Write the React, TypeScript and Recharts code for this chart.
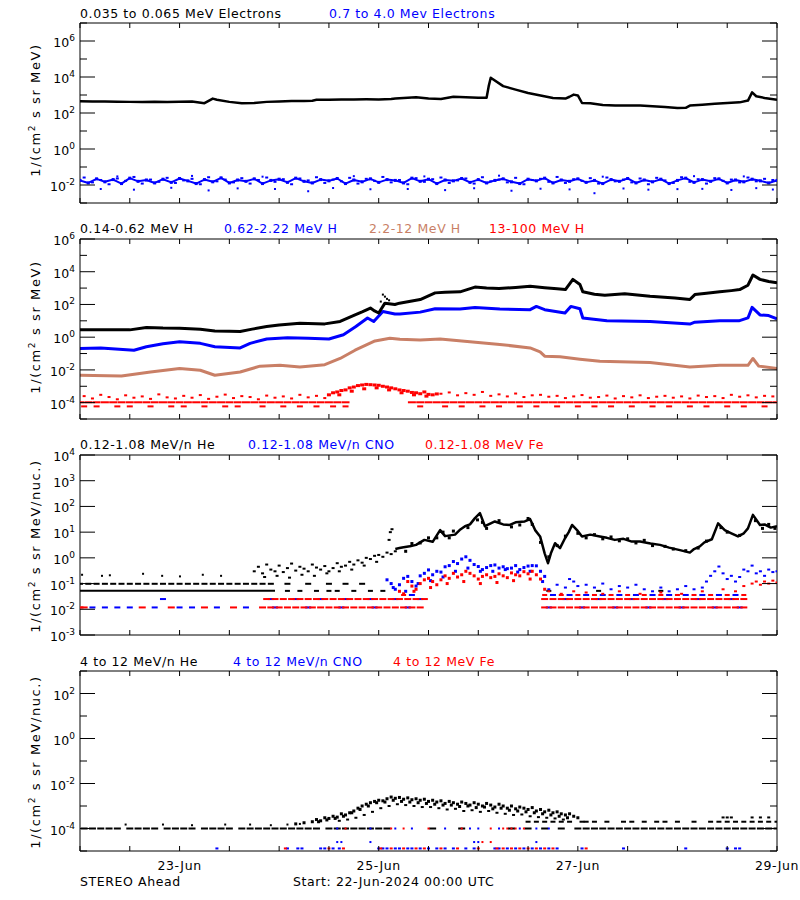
import React from "react";
import { ComposedChart, Line, Scatter, XAxis, YAxis } from "recharts";

// hours since 22-Jun-2024 00:00 UTC
const xTicks = [0, 12, 24, 36, 48, 60, 72, 84, 96, 108, 120, 132, 144, 156, 168];
const dateLabels: Record<number, string> = { 24: "23-Jun", 72: "25-Jun", 120: "27-Jun", 168: "29-Jun" };

const grid2h = [
  0, 2, 4, 6, 8, 10, 12, 14, 16, 18, 20, 22, 24, 26, 28, 30, 32, 34, 36, 38, 40, 42, 44, 46, 48, 50, 52, 54, 56, 58,
  60, 62, 64, 66, 68, 70, 72, 74, 76, 78, 80, 82, 84, 86, 88, 90, 92, 94, 96, 98, 100, 102, 104, 106, 108, 110, 112,
  114, 116, 118, 120, 122, 124, 126, 128, 130, 132, 134, 136, 138, 140, 142, 144, 146, 148, 150, 152, 154, 156, 158,
  160, 162, 164, 166, 168,
];
const gridOdd = [
  1, 3, 5, 7, 9, 11, 13, 15, 17, 19, 21, 23, 25, 27, 29, 31, 33, 35, 37, 39, 41, 43, 45, 47, 49, 51, 53, 55, 57, 59,
  61, 63, 65, 67, 69, 71, 73, 75, 77, 79, 81, 83, 85, 87, 89, 91, 93, 95, 97, 99, 101, 103, 105, 107, 109, 111, 113,
  115, 117, 119, 121, 123, 125, 127, 129, 131, 133, 135, 137, 139, 141, 143, 145, 147, 149, 151, 153, 155, 157, 159,
  161, 163, 165, 167,
];

// ---- panel 1: electrons
const elecLoT = [0, 3, 6, 9, 12, 15, 18, 21, 24, 27, 30, 32, 33, 36, 39, 42, 45, 48, 51, 54, 56, 57, 60, 63, 66, 69, 72, 75, 76, 78, 81, 84, 87, 90, 93, 96, 98, 98.5, 99, 102, 105, 108, 111, 114, 117, 118, 119, 120, 121, 123, 126, 129, 132, 135, 138, 141, 144, 146, 147, 150, 153, 156, 159, 161, 162, 163, 165, 168];
const elecLoV = [450, 430, 440, 420, 415, 410, 420, 410, 420, 430, 350, 630, 550, 415, 350, 360, 415, 430, 460, 470, 480, 540, 550, 570, 570, 580, 570, 600, 640, 690, 740, 630, 600, 800, 740, 700, 700, 3000, 9000, 3100, 2000, 1300, 950, 690, 630, 800, 1050, 950, 360, 350, 280, 260, 265, 260, 235, 215, 190, 195, 260, 290, 330, 360, 390, 490, 1400, 850, 690, 550];
const elecHiV = [
  0.018, 0.013, 0.022, 0.015, 0.02, 0.012, 0.024, 0.016, 0.019, 0.013,
  0.021, 0.014, 0.023, 0.017, 0.012, 0.02, 0.015, 0.025, 0.013, 0.019,
  0.016, 0.022, 0.012, 0.018, 0.021, 0.014, 0.024, 0.016, 0.013, 0.02,
  0.017, 0.023, 0.012, 0.019, 0.015, 0.022, 0.014, 0.02, 0.018, 0.013,
  0.024, 0.016, 0.021, 0.012, 0.019, 0.017, 0.023, 0.014, 0.02, 0.013,
  0.018, 0.022, 0.015, 0.012, 0.021, 0.017, 0.024, 0.013, 0.019, 0.016,
  0.022, 0.014, 0.018, 0.012, 0.02, 0.016, 0.023, 0.013, 0.019, 0.015,
  0.021, 0.012, 0.018, 0.024, 0.014, 0.02, 0.016, 0.022, 0.013, 0.019,
  0.015, 0.021, 0.017, 0.013, 0.018,
];
const elecHiOddV = [
  0.026, 0.014, 0.019, 0.011, 0.023, 0.017, 0.028, 0.012, 0.02, 0.015,
  0.025, 0.013, 0.018, 0.022, 0.011, 0.027, 0.016, 0.02, 0.014, 0.024,
  0.012, 0.019, 0.026, 0.015, 0.021, 0.011, 0.023, 0.018, 0.027, 0.013,
  0.02, 0.016, 0.025, 0.012, 0.022, 0.017, 0.028, 0.014, 0.019, 0.011,
  0.024, 0.015, 0.021, 0.026, 0.013, 0.018, 0.023, 0.012, 0.027, 0.016,
  0.02, 0.014, 0.025, 0.011, 0.019, 0.022, 0.015, 0.028, 0.013, 0.021,
  0.017, 0.024, 0.012, 0.026, 0.016, 0.02, 0.014, 0.023, 0.011, 0.025,
  0.018, 0.013, 0.027, 0.015, 0.021, 0.012, 0.024, 0.017, 0.02, 0.014,
  0.026, 0.016, 0.022, 0.019,
];
const elecHiOutT = [5, 9, 13, 22, 27, 31, 38, 44, 47, 55, 61, 66, 70, 79, 83, 88, 95, 101, 104, 111, 118, 124, 126, 131, 137, 144, 148, 150, 157, 160, 163, 167];
const elecHiOutV = [0.006, 0.03, 0.0055, 0.007, 0.032, 0.005, 0.0065, 0.029, 0.006, 0.0045, 0.0068, 0.031, 0.0058, 0.006, 0.03, 0.0052, 0.0066, 0.033, 0.0048, 0.0062, 0.0057, 0.0035, 0.029, 0.0064, 0.0055, 0.0059, 0.031, 0.0061, 0.0053, 0.03, 0.0067, 0.0056];

// ---- panel 2: protons
const hLowT = [0, 5, 12, 16, 20, 24, 29, 32.5, 36, 38.6, 41.5, 45, 48, 53, 59, 62.7, 66.3, 68, 70, 71, 72, 73.5, 75.9, 77, 82, 85.6, 88, 91.6, 95.2, 98, 101, 105, 108.5, 112, 115, 117, 118.8, 120.5, 121.2, 124, 126.5, 131.3, 137.4, 143.4, 147, 148.2, 151, 154.2, 157, 159, 161, 162.2, 163.9, 166, 168];
const hLowV = [2.8, 2.8, 2.8, 3.9, 3.6, 3.5, 3.1, 2.4, 2.3, 2.2, 3.1, 4.5, 5.6, 7.2, 6.5, 9.1, 23, 35, 60, 40, 30, 120, 100, 120, 200, 510, 560, 590, 1150, 1000, 950, 1100, 1300, 1050, 900, 810, 3400, 1650, 590, 420, 360, 450, 320, 250, 200, 400, 480, 590, 700, 810, 1500, 6300, 3400, 2500, 2100];
const hSpikeT = [72.5, 73, 73.5, 74, 74.5];
const hSpikeV = [150, 400, 300, 220, 180];
const hMidT = [0, 5, 13, 16, 20, 24, 29, 32.5, 38.6, 41, 45, 50, 55, 60, 63.5, 66.5, 69.3, 70.8, 73, 75.9, 77.1, 82, 85.6, 91.6, 95.2, 101.2, 108.5, 110, 112, 116.9, 118.3, 120.5, 121.2, 127, 137.4, 147, 148.2, 154.2, 158.8, 161, 162, 163.9, 166, 168];
const hMidV = [0.2, 0.22, 0.16, 0.26, 0.4, 0.53, 0.42, 0.26, 0.22, 0.42, 0.78, 0.93, 0.85, 0.78, 1.4, 4.5, 15, 9, 37, 26, 26, 34, 55, 52, 66, 52, 48, 76, 48, 30, 76, 55, 15, 10, 9, 6.3, 8.3, 10, 10, 15, 66, 23, 21, 13];
const hHighT = [0, 10, 17, 24, 29, 32.5, 38.6, 43.4, 48.2, 53, 59, 62.7, 66.3, 71.1, 74.7, 77.1, 82, 86.8, 94, 101.2, 108.5, 110.9, 112, 115.7, 120.5, 125.3, 137.4, 147, 154.2, 161, 162.2, 163.6, 168];
const hHighV = [0.0047, 0.0042, 0.0074, 0.012, 0.0095, 0.0047, 0.0074, 0.017, 0.019, 0.015, 0.021, 0.05, 0.16, 0.59, 0.85, 0.74, 0.68, 0.78, 0.53, 0.36, 0.22, 0.126, 0.069, 0.063, 0.045, 0.034, 0.028, 0.015, 0.019, 0.019, 0.05, 0.017, 0.012];
const hTopT = [
  1, 3, 5, 7, 9, 11, 13, 15, 17, 19, 21, 23, 25, 27, 29, 31, 33, 35, 37, 39, 41, 43, 45, 47, 49, 51, 53, 55, 57, 59,
  87, 89, 91, 93, 95, 97, 99, 101, 103, 105, 107, 109, 111, 113, 115, 117, 119, 121, 123, 125, 127, 129, 131, 133,
  135, 137, 139, 141, 143, 145, 147, 149, 151, 153, 155, 157, 159, 161, 163, 165, 167,
];
const hTopV = [
  2.5e-4, 1.8e-4, 3e-4, 2.2e-4, 1.6e-4, 2.8e-4, 2e-4, 2.4e-4, 1.7e-4, 3.2e-4,
  2.1e-4, 1.8e-4, 2.6e-4, 2e-4, 2.9e-4, 1.7e-4, 2.3e-4, 3.1e-4, 1.9e-4, 2.5e-4,
  2.2e-4, 1.6e-4, 2.7e-4, 2e-4, 2.4e-4, 1.8e-4, 3e-4, 2.1e-4, 2.6e-4, 1.9e-4,
  3.5e-4, 4.2e-4, 2.8e-4, 3.8e-4, 3e-4, 4.5e-4, 2.6e-4, 3.2e-4, 2.4e-4, 3.6e-4,
  2.2e-4, 2.8e-4, 3e-4, 2.3e-4, 2.6e-4, 1.9e-4, 2.4e-4, 2.9e-4, 2e-4, 2.2e-4,
  2.7e-4, 1.8e-4, 2.5e-4, 2.1e-4, 2.8e-4, 1.9e-4, 2.3e-4, 2.6e-4, 2e-4, 2.4e-4,
  1.8e-4, 2.7e-4, 2.2e-4, 2.5e-4, 1.9e-4, 3e-4, 2.3e-4, 2.8e-4, 2.1e-4, 2.6e-4, 2.4e-4,
];
const hTopBumpT = [60, 61, 62, 63, 64, 65, 66, 67, 68, 69, 70, 71, 72, 73, 74, 75, 76, 77, 78, 79, 80, 81, 82, 83, 84, 85, 86, 62.5, 65.5, 68.5, 71.5, 74.5, 77.5, 80.5, 83.5];
const hTopBumpV = [3e-4, 4e-4, 4.5e-4, 5.5e-4, 6e-4, 8e-4, 9e-4, 1.1e-3, 1.2e-3, 1.3e-3, 1.25e-3, 1.2e-3, 1.15e-3, 1e-3, 9e-4, 8e-4, 7e-4, 6e-4, 5.5e-4, 5e-4, 4.2e-4, 4e-4, 3.5e-4, 4.5e-4, 3.2e-4, 3e-4, 3.4e-4, 3e-4, 5e-4, 7e-4, 8e-4, 6e-4, 4e-4, 3e-4, 2.5e-4];
const hTopMidLevel = 1.05e-4;
const hTopMidT = [
  0, 2, 4, 6, 8, 10, 12, 14, 16, 18, 20, 22, 24, 26, 28, 30, 32, 34, 36, 38, 40, 42, 44, 46, 48, 50, 52, 54, 56, 58, 60, 62, 64,
  80, 82, 84, 86, 88, 90, 92, 94, 96, 98, 100, 102, 104, 106, 108, 110, 112, 114, 116, 118, 120, 122, 124, 126, 128,
  130, 132, 134, 136, 138, 140, 142, 144, 146, 148, 150, 152, 154, 156, 158, 160, 162, 164, 166, 168,
];
const hTopLowLevel = 5.9e-5;
const hTopLowT = [1, 4, 9, 12, 17, 22, 25, 30, 35, 38, 44, 49, 53, 57, 61, 64, 82, 88, 92, 97, 101, 106, 110, 115, 120, 124, 128, 133, 138, 142, 147, 151, 156, 160, 165];

// ---- panel 3: 0.12-1.08 MeV/n ions
const heMainT = [76, 77, 78, 79.5, 81, 83, 85, 86.8, 88, 90.4, 91.5, 92.8, 94, 95.2, 96.4, 97.6, 99, 100, 102, 103.6, 105, 107.2, 108.5, 109.7, 110.9, 111.5, 112, 112.8, 113.5, 114.5, 115.7, 116.9, 117.8, 118.6, 119.8, 121, 123, 125.3, 127, 128.9, 131, 133, 135, 137.5, 139.8, 142, 144.6, 147, 148, 149.4, 150.5, 152.3, 153.8, 155.4, 157, 158.6, 160, 161, 162.2, 163.9, 165, 166.5, 168];
const heMainV = [2.2, 2.4, 2.6, 2.8, 3.2, 5, 4.2, 12, 7, 8, 12, 17, 20, 35, 55, 17, 22, 26, 20, 19, 24, 26, 32, 12, 6.8, 3, 1.5, 0.62, 1.5, 3.7, 2.4, 5.8, 10, 19, 12, 6.8, 8, 6.8, 6, 5, 5.5, 4.3, 4.3, 3.6, 3.2, 2.5, 2.0, 1.6, 2.2, 2.8, 4, 5.3, 22, 12, 9, 6.8, 9, 14, 47, 19, 20, 15, 17];
const heSpreadT = [78.5, 80, 82, 84, 86, 87.5, 89, 90, 93.5, 95.8, 97, 98, 101, 104, 106, 108, 109, 111, 113, 115, 117, 120, 122, 124, 126, 128, 130, 132, 134, 136, 138, 141, 143, 146, 149, 151, 154.5, 156, 159, 162.8, 164.5, 166, 167.5];
const heSpreadV = [1.8, 3.6, 3.8, 6, 6, 10, 6, 11, 15, 30, 24, 14, 28, 16, 19, 34, 20, 4, 1.1, 3, 7, 9, 6, 8, 5.5, 6.5, 4.6, 5.5, 3.8, 4.8, 3, 2.8, 2.2, 1.9, 2.4, 4.5, 15, 10, 7.5, 28, 14, 20, 14];
const heCloudT = [42, 43, 44, 45, 46, 47, 48, 49, 50, 51, 52, 53, 54, 55, 56, 57, 58, 59, 60, 61, 62, 63, 64, 65, 66, 67, 68, 69, 70, 71, 72, 73, 74, 75, 76, 44.5, 47.5, 50.5, 53.5, 56.5, 59.5, 62.5, 65.5, 68.5, 71.5, 74.5, 74.8, 75.2];
const heCloudV = [0.3, 0.45, 0.25, 0.55, 0.35, 0.3, 0.5, 0.28, 0.4, 0.6, 0.32, 0.45, 0.38, 0.3, 0.55, 0.42, 0.35, 0.48, 0.3, 0.4, 0.62, 0.45, 0.5, 0.7, 0.55, 0.8, 0.65, 1.0, 0.9, 1.2, 1.3, 1.1, 1.6, 1.4, 1.8, 0.18, 0.2, 0.17, 0.22, 0.2, 0.25, 0.3, 0.35, 0.5, 0.7, 5, 10, 13];
const heSparseT = [0.5, 5.3, 7.2, 15.2, 19.8, 24.1, 29.6, 34];
const heSparseV = [0.22, 0.2, 0.21, 0.24, 0.2, 0.19, 0.22, 0.2];
const heFloorT = [0, 47];
const heFloorV = [0.052, 0.052];
const heFloorLevel = 0.052;
const heFloorDashT = [50, 53, 57, 60, 62, 66, 70, 73, 113, 125, 140];
const heStepLevel = 0.098;
const heStepT = [0, 2, 4, 6, 8, 10, 12, 14, 16, 18, 20, 22, 24, 26, 28, 30, 32, 34, 36, 38, 40, 42, 44, 46, 50, 55, 60, 64, 68];

const cnoEventT = [74, 75, 76, 77, 78, 79, 80, 81, 82, 83, 84, 85, 86, 87, 88, 89, 90, 91, 92, 93, 94, 95, 96, 97, 98, 99, 100, 101, 102, 103, 104, 105, 106, 107, 108, 109, 110, 111, 112, 75.5, 78.5, 81.5, 84.5, 87.5, 90.5, 93.5, 96.5, 99.5, 102.5, 105.5, 108.5, 111.5];
const cnoEventV = [0.14, 0.1, 0.06, 0.09, 0.16, 0.19, 0.12, 0.08, 0.2, 0.25, 0.34, 0.22, 0.3, 0.28, 0.45, 0.5, 0.72, 0.6, 0.9, 1.1, 0.8, 0.55, 0.46, 0.35, 0.42, 0.5, 0.53, 0.4, 0.45, 0.38, 0.4, 0.5, 0.35, 0.42, 0.48, 0.5, 0.49, 0.3, 0.19, 0.07, 0.05, 0.1, 0.13, 0.18, 0.3, 0.4, 0.3, 0.3, 0.35, 0.28, 0.3, 0.12];
const cnoLateT = [113, 115, 117, 118, 119, 120, 122, 124, 126, 128, 130, 132, 134, 136, 138, 140, 142, 144, 146, 148, 150, 151, 152, 153, 154, 155, 156, 157, 158, 159, 160, 161, 162, 163, 164, 165, 166, 167, 168];
const cnoLateV = [0.06, 0.09, 0.07, 0.15, 0.12, 0.08, 0.09, 0.07, 0.1, 0.06, 0.08, 0.07, 0.09, 0.06, 0.05, 0.07, 0.05, 0.06, 0.08, 0.06, 0.07, 0.12, 0.2, 0.3, 0.46, 0.25, 0.15, 0.2, 0.12, 0.18, 0.35, 0.3, 0.5, 0.25, 0.3, 0.2, 0.35, 0.28, 0.3];
const feEventT = [77, 78, 79, 80, 81, 82, 83, 84, 85, 86, 87, 88, 89, 90, 91, 92, 93, 94, 95, 96, 97, 98, 99, 100, 101, 102, 103, 104, 105, 106, 107, 108, 109, 110, 111, 112, 80.5, 84.5, 88.5, 92.5, 96.5, 100.5, 104.5, 108.5];
const feEventV = [0.05, 0.04, 0.12, 0.08, 0.06, 0.1, 0.14, 0.16, 0.12, 0.09, 0.14, 0.2, 0.16, 0.25, 0.18, 0.22, 0.3, 0.25, 0.2, 0.15, 0.19, 0.22, 0.17, 0.19, 0.24, 0.2, 0.17, 0.26, 0.22, 0.2, 0.29, 0.24, 0.3, 0.22, 0.15, 0.06, 0.05, 0.07, 0.1, 0.12, 0.1, 0.11, 0.13, 0.15];
const feLateT = [113, 116, 119, 122, 126, 130, 135, 140, 145, 150, 155, 158, 160, 162, 163, 164, 165, 166, 167, 168];
const feLateV = [0.05, 0.04, 0.05, 0.045, 0.04, 0.05, 0.04, 0.045, 0.04, 0.05, 0.06, 0.05, 0.08, 0.1, 0.12, 0.09, 0.12, 0.1, 0.13, 0.11];
const ionLevelA = 0.0118;
const ionLevelB = 0.025;
const ionLevelC = 0.036;
const feLevelAT = [0, 1, 15, 22, 30, 37, 44, 46, 48, 50, 52, 54, 56, 58, 60, 62, 64, 66, 68, 70, 72, 74, 76, 78, 80, 82, 112, 114, 116, 118, 120, 122, 124, 126, 128, 130, 132, 134, 136, 138, 140, 142, 144, 146, 148, 150, 152, 154, 156, 158, 160];
const cnoLevelAT = [3, 6, 9, 12, 18, 24, 27, 33, 40, 47, 55, 63, 71, 79, 113, 121, 129, 137, 145, 153, 159];
const feLevelBT = [45, 47, 49, 51, 53, 55, 57, 59, 61, 63, 65, 67, 69, 71, 73, 75, 77, 79, 81, 83, 112, 114, 116, 118, 120, 122, 124, 126, 128, 130, 132, 134, 136, 138, 140, 142, 144, 146, 148, 150, 152, 154, 156, 158, 160];
const cnoLevelBT = [20, 46, 52, 58, 64, 70, 76, 82, 117, 125, 133, 141, 149, 157];
const feLevelCT = [78, 112, 116, 120, 124, 128, 132, 136, 140, 144, 148, 152, 156, 160];
const cnoLevelCT = [80, 114, 118, 122, 126, 130, 134, 138, 142, 146, 150, 154, 158];

// ---- panel 4: 4-12 MeV/n ions
const he4Level = 1e-4;
const he4LevelT = [1, 3, 5, 7, 9, 12, 14, 16, 18, 21, 23, 25, 27, 30, 32, 34, 36, 39, 41, 43, 45, 47, 49, 51, 53, 55, 57, 60, 62, 64, 66, 68, 70, 72, 74, 85, 92, 104, 108, 112, 116, 120, 122, 124, 126, 128, 130, 132, 134, 136, 138, 140, 142, 144, 146, 148, 150, 152, 154, 156, 158, 160, 162, 164, 166, 168];
const he4SparseT = [11, 20, 27, 35, 41, 46, 50, 53];
const he4SparseV = [1.5e-4, 1.5e-4, 1.4e-4, 1.5e-4, 1.5e-4, 1.4e-4, 1.5e-4, 1.6e-4];
const he4CloudT = [52, 54, 56, 57, 58, 59, 60, 61, 62, 63, 64, 65, 66, 67, 68, 69, 70, 71, 72, 73, 74, 75, 76, 77, 78, 79, 80, 81, 82, 83, 84, 85, 86, 87, 88, 89, 90, 91, 92, 93, 94, 95, 96, 97, 98, 99, 100, 101, 102, 103, 104, 105, 106, 107, 108, 109, 110, 111, 112, 113, 114, 115, 116, 117, 118, 119, 120];
const he4CloudV = [1.6e-4, 1.8e-4, 2e-4, 2.5e-4, 2.2e-4, 3e-4, 2.8e-4, 3.5e-4, 3.2e-4, 4.5e-4, 4e-4, 5e-4, 6e-4, 8e-4, 1e-3, 1.2e-3, 1.4e-3, 1.6e-3, 1.8e-3, 1.7e-3, 2.1e-3, 2.5e-3, 2.2e-3, 2.4e-3, 2e-3, 2.3e-3, 1.9e-3, 2.1e-3, 1.8e-3, 2e-3, 1.6e-3, 1.8e-3, 1.5e-3, 1.7e-3, 1.3e-3, 1.6e-3, 1.4e-3, 1.2e-3, 1.5e-3, 1.3e-3, 1.1e-3, 1.4e-3, 1.2e-3, 1e-3, 1.3e-3, 1.1e-3, 9e-4, 1.2e-3, 1e-3, 8e-4, 1e-3, 7.5e-4, 9e-4, 8e-4, 7e-4, 8.5e-4, 6e-4, 7e-4, 5.5e-4, 6.5e-4, 5e-4, 5.5e-4, 4.5e-4, 4e-4, 4.5e-4, 3.5e-4, 3e-4];
const he4MidCloudT = [57.5, 59.5, 61.5, 63.5, 65.5, 67.5, 69.5, 71.5, 73.5, 75.5, 77.5, 79.5, 81.5, 83.5, 85.5, 87.5, 89.5, 91.5, 93.5, 95.5, 97.5, 99.5, 101.5, 103.5, 105.5, 107.5, 109.5, 111.5, 113.5, 115.5, 117.5];
const he4MidCloudV = [2e-4, 2.4e-4, 2.8e-4, 3.5e-4, 5e-4, 7e-4, 1e-3, 1.4e-3, 1.5e-3, 1.8e-3, 1.6e-3, 1.5e-3, 1.4e-3, 1.3e-3, 1.2e-3, 1.1e-3, 1.1e-3, 9.5e-4, 1e-3, 8.5e-4, 9e-4, 7.5e-4, 8e-4, 6.5e-4, 6e-4, 5.5e-4, 5e-4, 4.5e-4, 4e-4, 3.5e-4, 3e-4];
const he4LowerT = [62.5, 64.5, 66.5, 68.5, 70.5, 72.5, 74.5, 76.5, 78.5, 80.5, 82.5, 84.5, 86.5, 88.5, 90.5, 92.5, 94.5, 96.5, 98.5, 100.5, 102.5, 104.5, 106.5, 108.5, 110.5, 112.5, 114.5, 116.5];
const he4LowerV = [2.2e-4, 2.5e-4, 3e-4, 4e-4, 5.5e-4, 8e-4, 1e-3, 1.2e-3, 1.1e-3, 1e-3, 9e-4, 9e-4, 8e-4, 7e-4, 7.5e-4, 6e-4, 6.5e-4, 5.5e-4, 6e-4, 5e-4, 4.5e-4, 4e-4, 4.2e-4, 3.5e-4, 3.2e-4, 3e-4, 2.8e-4, 2.5e-4];
const he4TailLevel = 2e-4;
const he4TailT = [108, 110, 112, 114, 116, 118, 121, 122, 124, 127, 131, 133, 136, 139, 141, 144, 148, 152, 154, 156, 158, 160, 162, 164, 166, 168];
const he4Tail2Level = 3.1e-4;
const he4Tail2T = [155, 156, 157, 162, 164, 166];
const ion4Floor = 1.3e-5;
const ion4Mid = 2.5e-5;
const cno4FloorT = [33, 50, 52.5, 53.5, 58, 59, 61, 62.5, 72, 73, 74, 76, 77, 79, 80, 82, 84, 86, 88, 90, 93, 95, 100, 101, 103, 105, 107, 109, 111, 113, 115, 121, 131, 146, 156, 158, 159];
const fe4FloorT = [49.5, 60, 63.5, 72.5, 75, 78, 81, 83, 87, 91, 96, 100.5, 102, 104, 106, 108, 110, 112, 114, 122];
const cno4LevelT = [62, 70, 76, 80, 88, 94, 96, 101, 106, 110, 113];
const fe4LevelT = [64, 75, 78, 84, 92, 99, 102, 103, 104, 105, 107];
const cno4MidT = [62, 63, 70, 95, 96, 110];
const fe4MidT = [97, 99];

const BLACK = "#000000";
const BLUE = "#0000ff";
const RED = "#ff0000";
const BROWN = "#c97f66";
const FONT = "DejaVu Sans, sans-serif";

const pts = (t: number[], v: number[]) => t.map((x, i) => ({ t: x, v: v[i] }));
const lvl = (t: number[], v: number) => t.map((x) => ({ t: x, v }));
const sq = (color: string, w: number, h: number) => (p: any) =>
  p.cx == null ? <g /> : <rect x={p.cx - w / 2} y={p.cy - h / 2} width={w} height={h} fill={color} />;

const exp = (v: number) => Math.round(Math.log10(v));

type PanelProps = {
  top: number;
  domain: [number, number];
  ticks: number[];
  labelled: number[];
  dates?: boolean;
  children: React.ReactNode;
};

function Panel({ top, domain, ticks, labelled, dates, children }: PanelProps) {
  const leftTick = (p: any) => {
    const e = exp(p.payload.value);
    const major = labelled.includes(e);
    return (
      <g>
        <line x1={p.x} x2={p.x + (major ? 15 : 7)} y1={p.y} y2={p.y} stroke={BLACK} />
        {major && (
          <text x={p.x - 5} y={p.y + 6} textAnchor="end" fontSize={12.5} fontFamily={FONT} fill={BLACK}>
            10<tspan dy={-6} fontSize={9}>{e}</tspan>
          </text>
        )}
      </g>
    );
  };
  const rightTick = (p: any) => {
    const major = labelled.includes(exp(p.payload.value));
    return <line x1={p.x} x2={p.x - (major ? 15 : 7)} y1={p.y} y2={p.y} stroke={BLACK} />;
  };
  const bottomTick = (p: any) => (
    <g>
      <line x1={p.x} x2={p.x} y1={p.y} y2={p.y - 5} stroke={BLACK} />
      {dates && dateLabels[p.payload.value] && (
        <text x={p.x} y={p.y + 19} textAnchor="middle" fontSize={12.5} letterSpacing={0.6} fontFamily={FONT} fill={BLACK}>
          {dateLabels[p.payload.value]}
        </text>
      )}
    </g>
  );
  const topTick = (p: any) => <line x1={p.x} x2={p.x} y1={p.y} y2={p.y + 5} stroke={BLACK} />;
  const bottom = dates ? 50 : 10;
  // axes are 1px thick so that Recharts draws them; margins are reduced by the same amount
  return (
    <div style={{ position: "absolute", left: 0, top: top - 10 }}>
      <ComposedChart width={800} height={180 + 10 + bottom} margin={{ top: 9, right: 22, bottom: bottom - 1, left: 79 }}>
        <XAxis dataKey="t" type="number" domain={[0, 168]} ticks={xTicks} interval={0} height={1} tickSize={0} tickMargin={0} tickLine={false} axisLine={{ stroke: BLACK }} tick={bottomTick} allowDataOverflow />
        <XAxis xAxisId="top" orientation="top" dataKey="t" type="number" domain={[0, 168]} ticks={xTicks} interval={0} height={1} tickSize={0} tickMargin={0} tickLine={false} axisLine={{ stroke: BLACK }} tick={topTick} allowDataOverflow />
        <YAxis dataKey="v" type="number" scale="log" domain={domain} ticks={ticks} interval={0} width={1} tickSize={0} tickMargin={0} tickLine={false} axisLine={{ stroke: BLACK }} tick={leftTick} allowDataOverflow />
        <YAxis yAxisId="right" orientation="right" dataKey="v" type="number" scale="log" domain={domain} ticks={ticks} interval={0} width={1} tickSize={0} tickMargin={0} tickLine={false} axisLine={{ stroke: BLACK }} tick={rightTick} allowDataOverflow />
        {children}
      </ComposedChart>
    </div>
  );
}

const lineProps = { dataKey: "v", dot: false, activeDot: false, isAnimationActive: false, strokeLinejoin: "round" as const };

export default function App() {
  return (
    <div style={{ position: "absolute", left: 0, top: 0, width: 800, height: 900, background: "#fff" }}>
      <Panel top={23} domain={[1e-3, 1e7]} ticks={[1e-3, 1e-2, 1e-1, 1, 10, 100, 1e3, 1e4, 1e5, 1e6, 1e7]} labelled={[-2, 0, 2, 4, 6]}>
        <Line data={pts(grid2h, elecHiV)} stroke={BLUE} strokeWidth={2} {...lineProps} />
        <Scatter data={pts(grid2h, elecHiV)} dataKey="v" shape={sq(BLUE, 3, 3)} isAnimationActive={false} />
        <Scatter data={pts(gridOdd, elecHiOddV)} dataKey="v" shape={sq(BLUE, 3, 2)} isAnimationActive={false} />
        <Scatter data={pts(elecHiOutT, elecHiOutV)} dataKey="v" shape={sq(BLUE, 2, 2)} isAnimationActive={false} />
        <Line data={pts(elecLoT, elecLoV)} stroke={BLACK} strokeWidth={2.5} {...lineProps} />
      </Panel>

      <Panel top={239} domain={[1e-5, 1e6]} ticks={[1e-5, 1e-4, 1e-3, 1e-2, 1e-1, 1, 10, 100, 1e3, 1e4, 1e5, 1e6]} labelled={[-4, -2, 0, 2, 4, 6]}>
        <Scatter data={lvl(hTopLowT, hTopLowLevel)} dataKey="v" shape={sq(RED, 6, 2)} isAnimationActive={false} />
        <Scatter data={lvl(hTopMidT, hTopMidLevel)} dataKey="v" shape={sq(RED, 8, 2)} isAnimationActive={false} />
        <Scatter data={pts(hTopT, hTopV)} dataKey="v" shape={sq(RED, 3, 2)} isAnimationActive={false} />
        <Scatter data={pts(hTopBumpT, hTopBumpV)} dataKey="v" shape={sq(RED, 4, 3)} isAnimationActive={false} />
        <Line data={pts(hHighT, hHighV)} stroke={BROWN} strokeWidth={3} {...lineProps} />
        <Line data={pts(hMidT, hMidV)} stroke={BLUE} strokeWidth={3} {...lineProps} />
        <Line data={pts(hLowT, hLowV)} stroke={BLACK} strokeWidth={3} {...lineProps} />
        <Scatter data={pts(hSpikeT, hSpikeV)} dataKey="v" shape={sq(BLACK, 2, 2)} isAnimationActive={false} />
      </Panel>

      <Panel top={455} domain={[1e-3, 1e4]} ticks={[1e-3, 1e-2, 1e-1, 1, 10, 100, 1e3, 1e4]} labelled={[-3, -2, -1, 0, 1, 2, 3, 4]}>
        <Line data={pts(heFloorT, heFloorV)} stroke={BLACK} strokeWidth={2} {...lineProps} />
        <Scatter data={lvl(heFloorDashT, heFloorLevel)} dataKey="v" shape={sq(BLACK, 5, 2)} isAnimationActive={false} />
        <Scatter data={lvl(heStepT, heStepLevel)} dataKey="v" shape={sq(BLACK, 6, 2)} isAnimationActive={false} />
        <Scatter data={pts(heSparseT, heSparseV)} dataKey="v" shape={sq(BLACK, 2, 2)} isAnimationActive={false} />
        <Scatter data={pts(heCloudT, heCloudV)} dataKey="v" shape={sq(BLACK, 3, 2)} isAnimationActive={false} />
        <Line data={pts(heMainT, heMainV)} stroke={BLACK} strokeWidth={2.5} {...lineProps} />
        <Scatter data={pts(heSpreadT, heSpreadV)} dataKey="v" shape={sq(BLACK, 3, 3)} isAnimationActive={false} />
        <Scatter data={lvl(cnoLevelAT, ionLevelA)} dataKey="v" shape={sq(BLUE, 6, 2)} isAnimationActive={false} />
        <Scatter data={lvl(cnoLevelBT, ionLevelB)} dataKey="v" shape={sq(BLUE, 6, 2)} isAnimationActive={false} />
        <Scatter data={lvl(cnoLevelCT, ionLevelC)} dataKey="v" shape={sq(BLUE, 6, 2)} isAnimationActive={false} />
        <Scatter data={pts(cnoEventT, cnoEventV)} dataKey="v" shape={sq(BLUE, 3, 3)} isAnimationActive={false} />
        <Scatter data={pts(cnoLateT, cnoLateV)} dataKey="v" shape={sq(BLUE, 3, 2)} isAnimationActive={false} />
        <Scatter data={lvl(feLevelAT, ionLevelA)} dataKey="v" shape={sq(RED, 7, 2)} isAnimationActive={false} />
        <Scatter data={lvl(feLevelBT, ionLevelB)} dataKey="v" shape={sq(RED, 7, 2)} isAnimationActive={false} />
        <Scatter data={lvl(feLevelCT, ionLevelC)} dataKey="v" shape={sq(RED, 5, 2)} isAnimationActive={false} />
        <Scatter data={pts(feEventT, feEventV)} dataKey="v" shape={sq(RED, 3, 3)} isAnimationActive={false} />
        <Scatter data={pts(feLateT, feLateV)} dataKey="v" shape={sq(RED, 3, 2)} isAnimationActive={false} />
      </Panel>

      <Panel top={671} domain={[1e-5, 1e3]} ticks={[1e-5, 1e-4, 1e-3, 1e-2, 1e-1, 1, 10, 100, 1e3]} labelled={[-4, -2, 0, 2]} dates>
        <Scatter data={lvl(he4LevelT, he4Level)} dataKey="v" shape={sq(BLACK, 7, 2)} isAnimationActive={false} />
        <Scatter data={pts(he4SparseT, he4SparseV)} dataKey="v" shape={sq(BLACK, 2, 2)} isAnimationActive={false} />
        <Scatter data={pts(he4CloudT, he4CloudV)} dataKey="v" shape={sq(BLACK, 3, 3)} isAnimationActive={false} />
        <Scatter data={pts(he4MidCloudT, he4MidCloudV)} dataKey="v" shape={sq(BLACK, 3, 3)} isAnimationActive={false} />
        <Scatter data={pts(he4LowerT, he4LowerV)} dataKey="v" shape={sq(BLACK, 3, 2)} isAnimationActive={false} />
        <Scatter data={lvl(he4TailT, he4TailLevel)} dataKey="v" shape={sq(BLACK, 5, 2)} isAnimationActive={false} />
        <Scatter data={lvl(he4Tail2T, he4Tail2Level)} dataKey="v" shape={sq(BLACK, 3, 2)} isAnimationActive={false} />
        <Scatter data={lvl(cno4FloorT, ion4Floor)} dataKey="v" shape={sq(BLUE, 3, 2)} isAnimationActive={false} />
        <Scatter data={lvl(cno4LevelT, he4Level)} dataKey="v" shape={sq(BLUE, 2, 2)} isAnimationActive={false} />
        <Scatter data={lvl(cno4MidT, ion4Mid)} dataKey="v" shape={sq(BLUE, 2, 2)} isAnimationActive={false} />
        <Scatter data={lvl(fe4FloorT, ion4Floor)} dataKey="v" shape={sq(RED, 3, 2)} isAnimationActive={false} />
        <Scatter data={lvl(fe4LevelT, he4Level)} dataKey="v" shape={sq(RED, 2, 2)} isAnimationActive={false} />
        <Scatter data={lvl(fe4MidT, ion4Mid)} dataKey="v" shape={sq(RED, 2, 2)} isAnimationActive={false} />
      </Panel>

      <svg width={800} height={900} style={{ position: "absolute", left: 0, top: 0, pointerEvents: "none" }} fontFamily={FONT} fontSize={12.5} letterSpacing={0.6}>
        <text x={80} y={18} fill={BLACK}>0.035 to 0.065 MeV Electrons</text>
        <text x={329} y={18} fill={BLUE}>0.7 to 4.0 Mev Electrons</text>
        <text x={80} y={233} fill={BLACK}>0.14-0.62 MeV H</text>
        <text x={224} y={233} fill={BLUE}>0.62-2.22 MeV H</text>
        <text x={369} y={233} fill={BROWN}>2.2-12 MeV H</text>
        <text x={489} y={233} fill={RED}>13-100 MeV H</text>
        <text x={80} y={449} fill={BLACK}>0.12-1.08 MeV/n He</text>
        <text x={248} y={449} fill={BLUE}>0.12-1.08 MeV/n CNO</text>
        <text x={425} y={449} fill={RED}>0.12-1.08 MeV Fe</text>
        <text x={80} y={666} fill={BLACK}>4 to 12 MeV/n He</text>
        <text x={233} y={666} fill={BLUE}>4 to 12 MeV/n CNO</text>
        <text x={393} y={666} fill={RED}>4 to 12 MeV Fe</text>
        <text x={80} y={886} fill={BLACK}>STEREO Ahead</text>
        <text x={293} y={886} fill={BLACK}>Start: 22-Jun-2024 00:00 UTC</text>
        {[
          { cy: 110, t: "MeV)" },
          { cy: 327, t: "MeV)" },
          { cy: 546, t: "MeV/nuc.)" },
          { cy: 762, t: "MeV/nuc.)" },
        ].map((l, i) => (
          <text key={i} transform={`translate(40, ${l.cy}) rotate(-90)`} textAnchor="middle" fill={BLACK} fontSize={13} letterSpacing={1.6}>
            1/(cm<tspan dy={-5} fontSize={9}>2</tspan>
            <tspan dy={5}> s sr {l.t}</tspan>
          </text>
        ))}
      </svg>
    </div>
  );
}
